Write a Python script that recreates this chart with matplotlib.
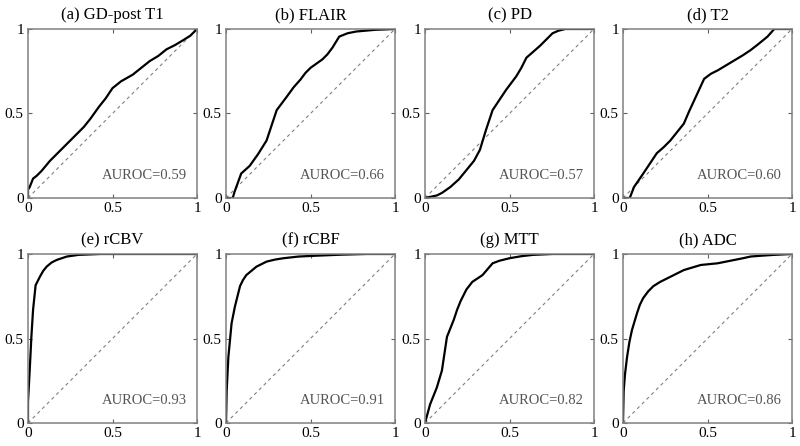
import matplotlib.pyplot as plt

plt.rcParams['font.family'] = ['Liberation Serif', 'DejaVu Serif']

titles = ['(a) GD-post T1', '(b) FLAIR', '(c) PD', '(d) T2',
          '(e) rCBV', '(f) rCBF', '(g) MTT', '(h) ADC']
auroc = ['0.59', '0.66', '0.57', '0.60', '0.93', '0.91', '0.82', '0.86']

# ROC curves (false positive rate, true positive rate)
fpr_a = [0, 0, 0.01, 0.03, 0.05, 0.08, 0.13, 0.18, 0.23, 0.28, 0.33, 0.37, 0.42, 0.46,
         0.50, 0.55, 0.62, 0.67, 0.72, 0.77, 0.82, 0.87, 0.92, 0.96, 1.0]
tpr_a = [0, 0.05, 0.065, 0.115, 0.13, 0.16, 0.22, 0.27, 0.32, 0.37, 0.42, 0.47, 0.54, 0.59,
         0.65, 0.69, 0.73, 0.77, 0.81, 0.84, 0.88, 0.905, 0.935, 0.96, 1.0]

fpr_b = [0, 0.04, 0.05, 0.09, 0.14, 0.19, 0.24, 0.30, 0.36, 0.40, 0.44, 0.47, 0.50,
         0.57, 0.60, 0.63, 0.67, 0.72, 0.77, 0.88, 1.0]
tpr_b = [0, 0, 0.035, 0.145, 0.19, 0.26, 0.34, 0.52, 0.60, 0.655, 0.70, 0.74, 0.77,
         0.82, 0.85, 0.89, 0.955, 0.975, 0.985, 0.995, 1.0]

fpr_c = [0, 0.07, 0.10, 0.15, 0.20, 0.245, 0.29, 0.325, 0.36, 0.38, 0.40, 0.44, 0.48,
         0.51, 0.54, 0.57, 0.60, 0.64, 0.68, 0.72, 0.755, 0.79, 0.83, 1.0]
tpr_c = [0, 0.015, 0.03, 0.065, 0.11, 0.165, 0.22, 0.285, 0.40, 0.46, 0.52, 0.58, 0.64,
         0.68, 0.72, 0.77, 0.83, 0.865, 0.90, 0.94, 0.975, 0.99, 1.0, 1.0]

fpr_d = [0, 0.04, 0.065, 0.12, 0.16, 0.20, 0.24, 0.28, 0.32, 0.36, 0.39, 0.42, 0.45,
         0.48, 0.52, 0.56, 0.61, 0.66, 0.71, 0.755, 0.80, 0.855, 0.895, 1.0]
tpr_d = [0, 0, 0.065, 0.145, 0.205, 0.265, 0.30, 0.34, 0.39, 0.44, 0.51, 0.575, 0.64,
         0.705, 0.735, 0.755, 0.785, 0.815, 0.845, 0.875, 0.91, 0.955, 1.0, 1.0]

fpr_e = [0, 0, 0.01, 0.02, 0.03, 0.045, 0.07, 0.09, 0.11, 0.14, 0.17, 0.23, 0.30, 0.43, 1.0]
tpr_e = [0, 0.125, 0.31, 0.51, 0.67, 0.815, 0.865, 0.90, 0.925, 0.95, 0.965, 0.985, 0.995, 1.0, 1.0]

fpr_f = [0, 0.004, 0.014, 0.033, 0.053, 0.083, 0.10, 0.12, 0.15, 0.18, 0.21, 0.24,
         0.29, 0.34, 0.43, 0.535, 0.68, 0.83, 1.0]
tpr_f = [0, 0.19, 0.39, 0.59, 0.69, 0.81, 0.845, 0.875, 0.90, 0.925, 0.94, 0.955,
         0.967, 0.975, 0.985, 0.99, 0.996, 1.0, 1.0]

fpr_g = [0, 0.03, 0.05, 0.07, 0.10, 0.115, 0.13, 0.15, 0.17, 0.19, 0.21, 0.245, 0.28,
         0.34, 0.37, 0.40, 0.44, 0.50, 0.57, 0.64, 0.755, 1.0]
tpr_g = [0, 0.11, 0.16, 0.21, 0.31, 0.41, 0.51, 0.56, 0.61, 0.67, 0.72, 0.79, 0.835,
         0.875, 0.91, 0.945, 0.96, 0.975, 0.987, 0.995, 1.0, 1.0]

fpr_h = [0, 0.004, 0.012, 0.024, 0.038, 0.053, 0.068, 0.083, 0.10, 0.12, 0.15, 0.18,
         0.22, 0.26, 0.31, 0.36, 0.41, 0.46, 0.51, 0.56, 0.61, 0.66, 0.71, 0.755, 0.82,
         0.895, 1.0]
tpr_h = [0, 0.19, 0.29, 0.39, 0.48, 0.55, 0.60, 0.65, 0.70, 0.74, 0.78, 0.81,
         0.835, 0.855, 0.88, 0.905, 0.92, 0.935, 0.94, 0.945, 0.955, 0.965, 0.975, 0.985, 0.99,
         0.995, 1.0]

curves = [(fpr_a, tpr_a), (fpr_b, tpr_b), (fpr_c, tpr_c), (fpr_d, tpr_d),
          (fpr_e, tpr_e), (fpr_f, tpr_f), (fpr_g, tpr_g), (fpr_h, tpr_h)]

fig = plt.figure(figsize=(8, 4.46), dpi=100)

lefts = [28, 226, 425, 623]
tops = [29, 254]
size = 169

for i, (fpr, tpr) in enumerate(curves):
    row, col = divmod(i, 4)
    ax = fig.add_axes([lefts[col] / 800, 1 - (tops[row] + size) / 446,
                       size / 800, size / 446])
    ax.plot([0, 1], [0, 1], linestyle=(0, (3, 3)), color='#808080', lw=0.8)
    ax.plot(fpr, tpr, color='black', lw=1.6)
    ax.set_xlim(0, 1)
    ax.set_ylim(0, 1)
    ax.set_xticks([0, 0.5, 1])
    ax.set_yticks([0, 0.5, 1])
    ax.set_xticklabels(['0', '0.5', '1'])
    ax.set_yticklabels(['0', '0.5', '1'])
    ax.tick_params(direction='in', length=3, width=0.8, color='#606060',
                   labelsize=11, top=True, right=True, pad=3)
    for s in ax.spines.values():
        s.set_color('#808080')
        s.set_linewidth(1.1)
    ax.set_title(titles[i], fontsize=12, pad=7)
    ax.text(0.94, 0.135, 'AUROC=' + auroc[i], transform=ax.transAxes,
            ha='right', va='center', fontsize=10.5, color='#555555')

fig.savefig('out.png', dpi=100)
